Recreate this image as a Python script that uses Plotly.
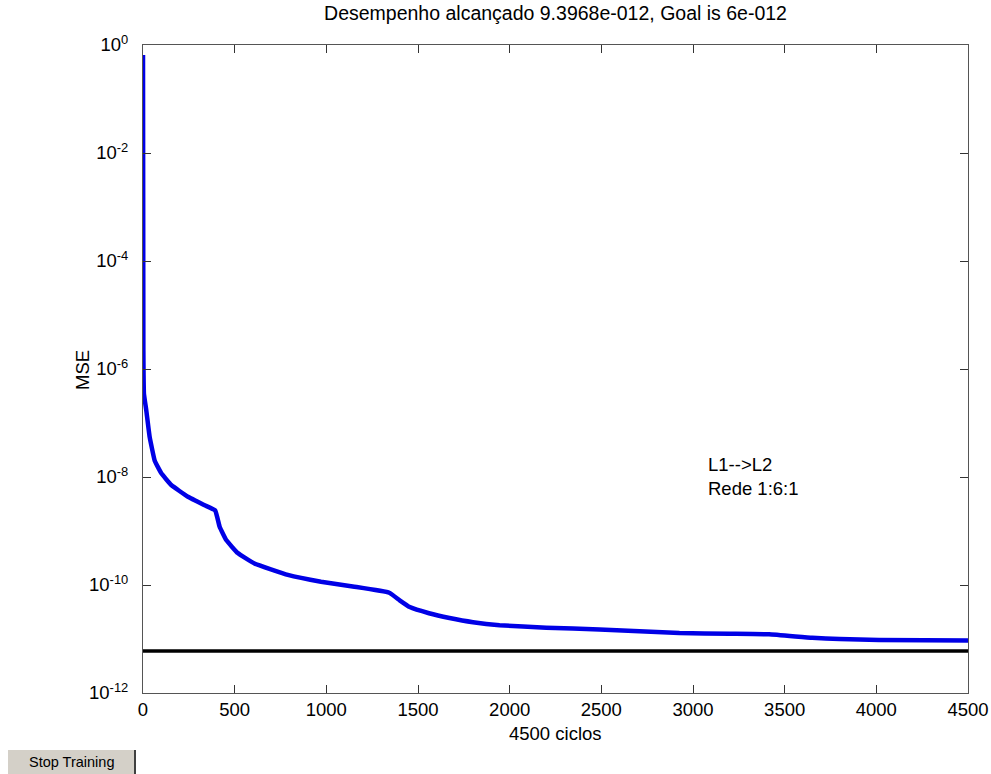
import plotly.graph_objects as go

# Training performance curve (epoch, MSE)
epochs = [0, 1, 2, 3, 5, 18, 36, 64, 100, 154, 245, 336, 394, 418, 454, 517, 608,
          790, 971, 1153, 1343, 1400, 1455, 1560, 1672, 1800, 1945, 2200, 2490,
          2926, 3200, 3415, 3650, 3800, 4015, 4500]
mse = [0.65, 1.5e-3, 2.2e-6, 8e-7, 3.5e-7, 1.7e-7, 5.6e-8, 2.0e-8, 1.17e-8, 7.1e-9,
       4.3e-9, 3.0e-9, 2.4e-9, 1.2e-9, 6.8e-10, 3.9e-10, 2.5e-10,
       1.54e-10, 1.15e-10, 9.3e-11, 7.2e-11, 5.2e-11, 3.9e-11, 3.0e-11, 2.45e-11,
       2.05e-11, 1.8e-11, 1.62e-11, 1.5e-11,
       1.29e-11, 1.25e-11, 1.22e-11, 1.05e-11, 1.0e-11, 9.6e-12, 9.3968e-12]

goal = 6e-12
goal_x = [0, 4500]

x_ticks = [0, 500, 1000, 1500, 2000, 2500, 3000, 3500, 4000, 4500]
y_exps = [0, -2, -4, -6, -8, -10, -12]
y_tickvals = [10.0 ** e for e in y_exps]
y_ticktext = ["10<sup>%d</sup>" % e for e in y_exps]

FONT = "Liberation Sans, Arial, sans-serif"
FS = 18.5

fig = go.Figure()
fig.add_trace(go.Scatter(x=epochs, y=mse, mode="lines",
                         line=dict(color="#0000e6", width=4.5, shape="spline",
                                   smoothing=0.3),
                         showlegend=False))
fig.add_trace(go.Scatter(x=goal_x, y=[goal, goal], mode="lines",
                         line=dict(color="black", width=3.5), showlegend=False))

W, H = 991, 774
L, R, T, B = 143, 23, 45, 81
pw, ph = W - L - R, H - T - B

fig.update_layout(
    width=W, height=H,
    margin=dict(l=L, r=R, t=T, b=B, pad=0, autoexpand=False),
    paper_bgcolor="white", plot_bgcolor="white",
    font=dict(family=FONT, color="black", size=FS),
    title=dict(text="Desempenho alcançado 9.3968e-012, Goal is 6e-012",
               x=(L + pw / 2) / W, xanchor="center", xref="container",
               y=1 - 13 / H, yanchor="middle", yref="container",
               font=dict(size=19.5, family=FONT, color="black")),
    xaxis=dict(range=[0, 4500], tickvals=x_ticks, ticks="inside", ticklen=8,
               tickcolor="#333", showline=True, linecolor="#555", linewidth=1,
               mirror="ticks", showgrid=False, zeroline=False, automargin=False,
               tickfont=dict(size=FS), ticklabelstandoff=0),
    yaxis=dict(type="log", range=[-12, 0], tickvals=y_tickvals, ticktext=y_ticktext,
               ticks="inside", ticklen=8, tickcolor="#333",
               showline=True, linecolor="#555", linewidth=1, mirror="ticks",
               showgrid=False, zeroline=False, automargin=False,
               tickfont=dict(size=FS), ticklabelstandoff=10),
)

# Axis titles placed as annotations (paper coords computed from pixel layout)
fig.add_annotation(x=0.5, y=(H - B - 733) / ph, xref="paper", yref="paper",
                   text="4500 ciclos", showarrow=False, xanchor="center",
                   yanchor="middle", font=dict(size=FS, family=FONT))
fig.add_annotation(x=(82 - L) / pw, y=(H - B - 370) / ph, xref="paper", yref="paper",
                   text="MSE", showarrow=False, textangle=-90, xanchor="center",
                   yanchor="middle", font=dict(size=FS, family=FONT))

fig.add_annotation(x=3073, y=-7.53, xref="x", yref="y",
                   text="L1-->L2<br>Rede 1:6:1", showarrow=False,
                   xanchor="left", yanchor="top", align="left",
                   font=dict(size=FS, family=FONT))

# Stop Training button (figure furniture)
bx0, bx1, by0, by1 = 8, 135, 750, 774
fig.add_shape(type="rect", xref="paper", yref="paper",
              x0=(bx0 - L) / pw, x1=(bx1 - L) / pw,
              y0=(H - B - by1) / ph, y1=(H - B - by0) / ph,
              fillcolor="#d4d0c8", line=dict(width=0), layer="above")
fig.add_shape(type="line", xref="paper", yref="paper",
              x0=(bx1 - L) / pw, x1=(bx1 - L) / pw,
              y0=(H - B - by1) / ph, y1=(H - B - by0) / ph,
              line=dict(color="#404040", width=2))
fig.add_annotation(x=((bx0 + bx1) / 2 - L) / pw, y=(H - B - (by0 + by1) / 2) / ph,
                   xref="paper", yref="paper", text="Stop Training",
                   showarrow=False, xanchor="center", yanchor="middle",
                   font=dict(size=14.5, family=FONT, color="black"))

fig.write_html("out.html")
